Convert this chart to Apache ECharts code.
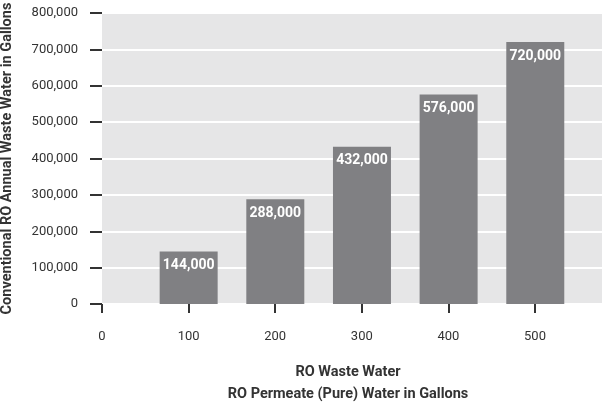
<!DOCTYPE html>
<html>
<head>
<meta charset="utf-8">
<script src="https://cdn.jsdelivr.net/npm/echarts@6/dist/echarts.min.js"></script>
<style>html,body{margin:0;padding:0;background:#fff}#c{width:602px;height:406px}</style>
</head>
<body>
<div id="c"></div>
<script>
var xValues = [100, 200, 300, 400, 500];
var wasteValues = [144000, 288000, 432000, 576000, 720000];
var xTicks = [0, 100, 200, 300, 400, 500];
var yTicks = [0, 100000, 200000, 300000, 400000, 500000, 600000, 700000, 800000];
var yAxisTitle = 'Conventional RO Annual Waste Water in Gallons';
var xTitleLine1 = 'RO Waste Water';
var xTitleLine2 = 'RO Permeate (Pure) Water in Gallons';

var FONT = "'Liberation Sans Narrow', Roboto, sans-serif";
var chart = echarts.init(document.getElementById('c'), null, {renderer: 'canvas'});

function fmt(v) { return v.toLocaleString('en-US'); }

chart.setOption({
  animation: false,
  grid: [
    {left: 102, right: 0, top: 13, bottom: 102, show: true, backgroundColor: '#e6e6e7', borderWidth: 0,
      containLabel: false, outerBoundsMode: 'none'},
    {left: 102, width: 433, top: 13, bottom: 102, show: false, containLabel: false, outerBoundsMode: 'none'}
  ],
  xAxis: [
    {type: 'value', gridIndex: 0, min: 0, max: 577, show: false, splitLine: {show: false}},
    {type: 'value', gridIndex: 1, min: xTicks[0], max: xTicks[xTicks.length - 1], interval: 100,
      offset: 10,
      axisLine: {show: false},
      axisTick: {show: true, length: 9, lineStyle: {color: '#333', width: 2}},
      splitLine: {show: false},
      axisLabel: {margin: 16, color: '#333', fontFamily: FONT, fontSize: 13}
    }
  ],
  yAxis: [
    {type: 'value', gridIndex: 0, min: yTicks[0], max: yTicks[yTicks.length - 1], interval: 100000,
      offset: 6,
      axisLine: {show: false},
      axisTick: {show: true, length: 12, lineStyle: {color: '#333', width: 2}},
      splitLine: {show: true, lineStyle: {color: '#ffffff', width: 2}},
      axisLabel: {margin: 18, color: '#333', fontFamily: FONT, fontSize: 13, formatter: fmt},
      name: yAxisTitle, nameLocation: 'middle', nameGap: 81, nameRotate: 90,
      nameTextStyle: {color: '#333', fontFamily: FONT, fontSize: 14.5, fontWeight: 'bold'}
    },
    {type: 'value', gridIndex: 1, min: 0, max: 800000, show: false, splitLine: {show: false}}
  ],
  graphic: [
    {type: 'text', x: 348, y: 372, style: {text: xTitleLine1, textAlign: 'center', textVerticalAlign: 'middle', fill: '#333', font: 'bold 14.5px ' + FONT}},
    {type: 'text', x: 348, y: 394, style: {text: xTitleLine2, textAlign: 'center', textVerticalAlign: 'middle', fill: '#333', font: 'bold 14.5px ' + FONT}}
  ],
  series: [
    {
      type: 'bar', xAxisIndex: 0, yAxisIndex: 0,
      data: xValues.map(function (x, i) { return [x, wasteValues[i]]; }),
      barWidth: 58,
      itemStyle: {color: '#808083'},
      label: {show: true, position: 'insideTop', distance: 7, color: '#fff', fontFamily: FONT, fontSize: 14, fontWeight: 'bold',
        formatter: function (p) { return fmt(p.value[1]); }}
    },
    {type: 'bar', xAxisIndex: 1, yAxisIndex: 1, data: []}
  ]
});
</script>
</body>
</html>
